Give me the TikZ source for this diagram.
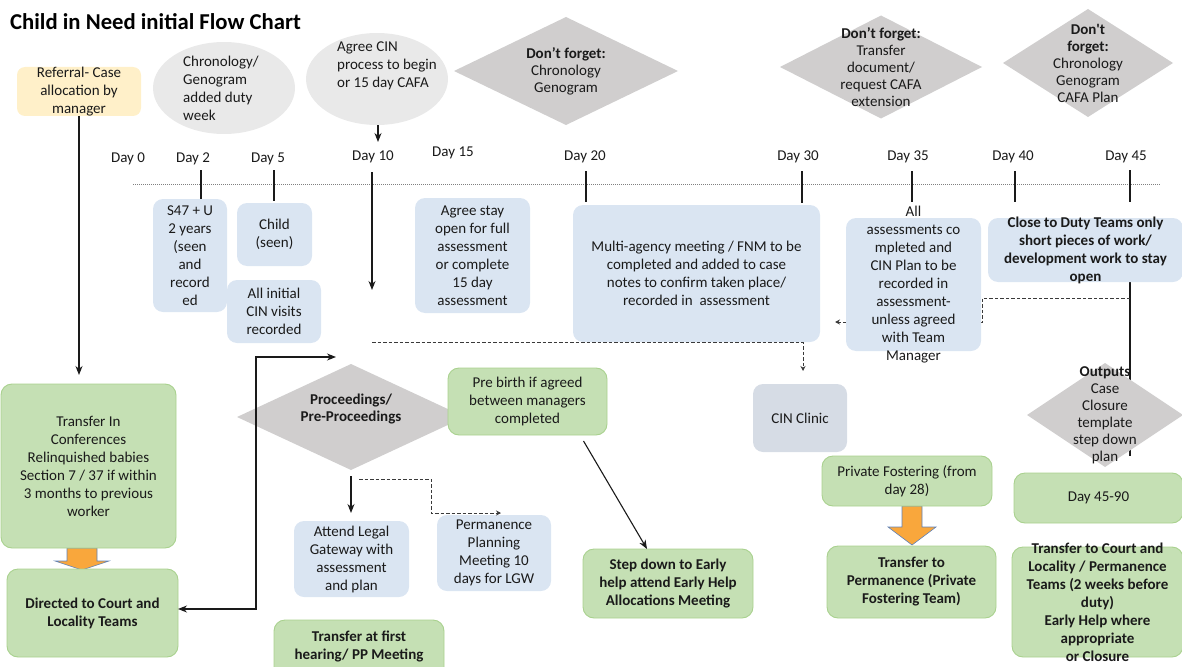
\documentclass[tikz,border=0pt]{standalone}
\usepackage{fontspec}
\setmainfont{Carlito}
\usetikzlibrary{shapes.geometric,arrows.meta,calc}
\definecolor{cblue}{HTML}{DAE5F2}
\definecolor{cgreen}{HTML}{C5E0B4}
\definecolor{cgreenb}{HTML}{A9D18E}
\definecolor{cgray}{HTML}{D0CECE}
\definecolor{cell}{HTML}{E9E9E9}
\definecolor{cclin}{HTML}{D6DCE5}
\definecolor{cyell}{HTML}{FFF0C9}
\definecolor{corange}{HTML}{F9A73C}
\definecolor{coutl}{HTML}{5F82B8}
\definecolor{ctxt}{HTML}{1A1A1A}
\definecolor{cdash}{HTML}{3A3A3A}
\newcommand\bodyf{\fontsize{15}{18}\selectfont}
\newcommand\diaf{\fontsize{15}{17}\selectfont}
\newcommand\BX[7]{%
  \node[#1, minimum width=#4, minimum height=#5] (#2) at (#3) {};
  \node[#6] (#2t) at (#2.center) {#7};}
\pgfdeclarelayer{bg}
\pgfsetlayers{bg,main}
\begin{document}
\begin{tikzpicture}[x=1pt,y=-1pt,
  shp/.style={inner sep=0pt, outer sep=0pt},
  bluebx/.style={shp, fill=cblue, rounded corners=10pt},
  yelbx/.style={shp, fill=cyell, rounded corners=8pt},
  clinbx/.style={shp, fill=cclin, rounded corners=10pt},
  greenbx/.style={shp, fill=cgreen, draw=cgreenb, line width=0.9pt, rounded corners=11pt},
  txt/.style={inner sep=0pt, align=center, font=\bodyf, text=ctxt},
  btxt/.style={txt, font=\bodyf\bfseries},
  dtxt/.style={txt, font=\diaf},
  dia/.style={shp, diamond, fill=cgray},
  ell/.style={shp, ellipse, fill=cell},
  tick/.style={line width=1.1pt, draw=ctxt},
  arr/.style={line width=1.1pt, draw=ctxt, -{Stealth[length=9pt,width=7pt]}},
  arrb/.style={line width=1.1pt, draw=ctxt, {Stealth[length=9pt,width=7pt]}-{Stealth[length=9pt,width=7pt]}},
  dsh/.style={line width=0.9pt, draw=cdash, dash pattern=on 3.5pt off 2pt, -{Stealth[length=5pt,width=5pt]}},
  timeline/.style={line width=0.7pt, draw=gray, dash pattern=on 0.8pt off 1.2pt},
  blk/.style={fill=corange, draw=coutl, line width=0.6pt}]
\useasboundingbox (0,0) rectangle (1182,666);
\clip (0,0) rectangle (1182,666);

% title
\node[anchor=west, inner sep=0pt, font=\fontsize{22.7}{25}\selectfont\bfseries, text=black] (title) at (10,22) {Child in Need initial Flow Chart};

% top row
\BX{yelbx}{ref}{79,91.5}{124}{49}{txt}{Referral- Case\\allocation by\\manager}
\node[ell, minimum width=142, minimum height=92] (e1) at (224,88) {};
\node[txt, align=left] (e1t) at (221,88.5) {Chronology/\\Genogram\\added duty\\week};
\node[ell, minimum width=142, minimum height=92] (e2) at (377,79) {};
\node[txt, align=left] (e2t) at (387,65.5) {Agree CIN\\process to begin\\or 15 day CAFA};
\BX{dia}{dfg1}{566,71}{224}{108}{dtxt}{\textbf{Don’t forget:}\\Chronology\\Genogram}
\BX{dia}{dfg2}{881,67}{202}{103}{dtxt}{\textbf{Don’t forget:}\\Transfer\\document/\\request CAFA\\extension}
\BX{dia}{dfg3}{1088,63}{170}{108}{dtxt}{\textbf{Don\textquotesingle t}\\\textbf{forget:}\\Chronology\\Genogram\\CAFA Plan}

% day labels
\node[txt] (d0) at (128,159) {Day 0};
\node[txt] (d2) at (193,159) {Day 2};
\node[txt] (d5) at (268,159) {Day 5};
\node[txt] (d10) at (373,157) {Day 10};
\node[txt] (d15) at (453,153) {Day 15};
\node[txt] (d20) at (585,157) {Day 20};
\node[txt] (d30) at (798,157) {Day 30};
\node[txt] (d35) at (908,157) {Day 35};
\node[txt] (d40) at (1013,157) {Day 40};
\node[txt] (d45) at (1126,157) {Day 45};

% orange block arrows (under boxes)
\filldraw[blk] (67,548) -- (97,548) -- (97,561) -- (109,561) -- (82,570) -- (55,561) -- (67,561) -- cycle;
\filldraw[blk] (902,506) -- (922,506) -- (922,527) -- (936,527) -- (912,545) -- (888,527) -- (902,527) -- cycle;

% boxes
\BX{bluebx}{s47}{190,255.5}{74}{113}{txt}{S47 + U\\2 years\\(seen\\and\\record\\ed}
\BX{bluebx}{child}{274.5,234.5}{75}{63}{txt}{Child\\(seen)}
\BX{bluebx}{allinit}{274,311.5}{94}{63}{txt}{All initial\\CIN visits\\recorded}
\BX{bluebx}{stay}{472.5,255.5}{115}{115}{txt}{Agree stay\\open for full\\assessment\\or complete\\15 day\\assessment}
\BX{bluebx}{multi}{696.5,273.5}{247}{137}{txt}{Multi-agency meeting / FNM to be\\completed and added to case\\notes to confirm taken place/\\recorded in\ \ assessment}
\BX{bluebx}{allbox}{913.5,284.5}{135}{133}{txt}{All\\assessments co\\mpleted and\\CIN Plan to be\\recorded in\\assessment-\\unless agreed\\with Team\\Manager}
\BX{bluebx}{close}{1085.5,250}{195}{64}{btxt}{Close to Duty Teams only\\short pieces of work/\\development work to stay\\open}
\BX{clinbx}{cin}{800,418}{94}{68}{txt}{CIN Clinic}
\BX{greenbx}{tin}{88.5,466}{175}{164}{txt}{Transfer In\\Conferences\\Relinquished babies\\Section 7 / 37 if within\\3 months to previous\\worker}
\BX{greenbx}{directed}{92.5,613}{171}{88}{btxt}{Directed to Court and\\Locality Teams}
\node[dia, minimum width=228, minimum height=106] (proc) at (351,417) {};
\node[btxt, font=\diaf\bfseries] (proct) at (351,409.5) {Proceedings/\\Pre-Proceedings};
\BX{greenbx}{prebirth}{527.5,401.5}{159}{67}{txt}{Pre birth if agreed\\between managers\\completed}
\BX{bluebx}{attend}{351.5,559}{115}{76}{txt}{Attend Legal\\Gateway with\\assessment\\and plan}
\BX{bluebx}{perm}{494,553}{114}{76}{txt}{Permanence\\Planning\\Meeting 10\\days for LGW}
\node[greenbx, minimum width=170, minimum height=60] (tfirst) at (359,650) {};
\node[btxt] (tfirstt) at (359,646) {Transfer at first\\hearing/ PP Meeting};
\BX{greenbx}{step}{668,583.5}{170}{69}{btxt}{Step down to Early\\help attend Early Help\\Allocations Meeting}
\BX{greenbx}{pf}{907,481}{170}{50}{txt}{Private Fostering (from\\day 28)}
\BX{greenbx}{tperm}{911.5,582}{169}{72}{btxt}{Transfer to\\Permanence (Private\\Fostering Team)}
\BX{dia}{outp}{1105,415}{156}{104}{dtxt}{\textbf{Outputs}\\Case\\Closure\\template\\step down\\plan}
\BX{greenbx}{d4590}{1098.5,498}{169}{50}{txt}{Day 45-90}
\BX{greenbx}{tcourt}{1097.5,602}{171}{110}{btxt}{Transfer to Court and\\Locality / Permanence\\Teams (2 weeks before\\duty)\\Early Help where\\appropriate\\or Closure}

% timeline coordinates
\coordinate (tl0) at (133,184);
\coordinate (tl1) at (1160,184);
\coordinate (k2) at (201,170);
\coordinate (k5) at (274,170);
\coordinate (k10) at (372,172);
\coordinate (k20) at (586,171);
\coordinate (k30) at (802,171);
\coordinate (k35) at (912,171);
\coordinate (k40) at (1015,171);
\coordinate (k45) at (1130,170);
\coordinate (ds) at (372,342.5);
\coordinate (m1) at (1130,298);
\coordinate (m2) at (982,322);
\coordinate (m3) at (835,322);
\coordinate (o2) at (1130,456);
\coordinate (p1) at (336,357);
\coordinate (q1) at (359,479);
\coordinate (q2) at (431,513);
\coordinate (q3) at (501,513);

\begin{pgfonlayer}{bg}
\draw[timeline] (tl0) -- (tl1);
\draw[tick] (k2) -- (k2 |- s47.north);
\draw[tick] (k5) -- ([yshift=2pt]k5 |- child.north);
\draw[arr] (k10) -- ++(0,118);
\draw[tick] (k20) -- ++(0,31);
\draw[tick] (k30) -- ++(0,32);
\draw[tick] (k35) -- ++(0,31);
\draw[tick] (k40) -- ++(0,31);
\draw[tick] (k45) -- ++(0,32);
\draw[tick] (k45 |- close.south) -- (o2);
\draw[dsh] (m1) -| (m2) -- (m3);
\end{pgfonlayer}

\draw[arr] (ref.south) -- ([yshift=9pt]ref.south |- tin.north);
\draw[arr] ([xshift=1pt]e2.south) -- ++(0,17);
\draw[dsh] (ds) -| ([xshift=3pt,yshift=13pt]cin.north);
\draw[arrb] ([yshift=4pt]directed.east) -- ++(78,0) |- (p1);
\draw[arr] ([yshift=-6pt]proc.south) -- ([yshift=8pt]proc.south |- attend.north);
\draw[dsh] (q1) -| (q2) -- (q3);
\draw[arr] ([xshift=56pt,yshift=-6pt]prebirth.south) -- ([xshift=-21pt]step.north);
\end{tikzpicture}
\end{document}
